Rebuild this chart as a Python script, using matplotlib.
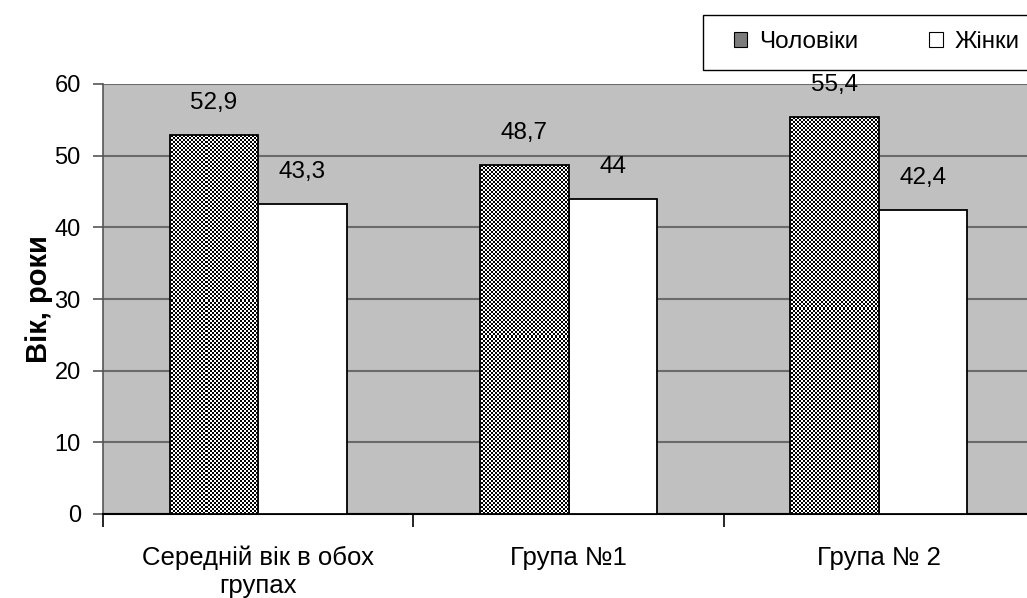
"""
Середній вік чоловіків і жінок у групах: стовпчикова діаграма.
"""

import numpy as np
import matplotlib.pyplot as plt
from matplotlib.patches import Patch, Rectangle

plt.rcParams['font.family'] = ['Liberation Sans', 'DejaVu Sans']

categories = ['Середній вік в обох\nгрупах', 'Група №1', 'Група № 2']
men = [52.9, 48.7, 55.4]
women = [43.3, 44.0, 42.4]
men_labels = ['52,9', '48,7', '55,4']
women_labels = ['43,3', '44', '42,4']
series_names = ['Чоловіки', 'Жінки']

W, H = 1027, 598
fig = plt.figure(figsize=(W / 100, H / 100), dpi=100)
# axes box in whole pixels so the checker image lands on the pixel grid
ax_l, ax_b, ax_w, ax_h = 103, 84, 931, 430
ax = fig.add_axes([ax_l / W, ax_b / H, ax_w / W, ax_h / H])
ax.set_facecolor('#c0c0c0')

x = np.arange(len(categories))
width = 0.285

bars_m = ax.bar(x - width / 2, men, width, facecolor='none',
                edgecolor='black', linewidth=1.3, zorder=4)
bars_w = ax.bar(x + width / 2, women, width, facecolor='white',
                edgecolor='black', linewidth=1.3, zorder=3)

# fine 2px checkerboard fill for the men's bars, clipped to each bar
yy, xx = np.mgrid[0:ax_h, 0:ax_w]
checker = ((xx // 2 + yy // 2) % 2).astype(float)
for b in bars_m:
    im = ax.imshow(checker, cmap='gray', vmin=0, vmax=1, interpolation='nearest',
                   extent=(0, 1, 0, 1), transform=ax.transAxes, zorder=3.5,
                   aspect='auto')
    im.set_clip_path(b)

ax.set_xlim(-0.5, 2.5)
ax.set_ylim(0, 60)

for bars, labels in [(bars_m, men_labels), (bars_w, women_labels)]:
    for b, lab in zip(bars, labels):
        ax.annotate(lab, (b.get_x() + b.get_width() / 2, b.get_height()),
                    xytext=(0, 23), textcoords='offset points',
                    ha='center', va='center', fontsize=17.5, zorder=5)

ax.yaxis.grid(True, color='#6a6a6a', linewidth=1.5, zorder=1)
ax.set_axisbelow(True)
ax.set_yticks(np.arange(0, 61, 10))
ax.tick_params(axis='y', labelsize=17, length=7, width=1.2, color='#555555', pad=9)

ax.set_xticks(x)
ax.set_xticklabels(categories, fontsize=18.5, linespacing=1.2)
ax.set_xticks([-0.5, 0.5, 1.5, 2.5], minor=True)
ax.tick_params(axis='x', which='major', length=0, pad=23)
ax.tick_params(axis='x', which='minor', length=9, width=1.2, color='black')

for side in ['top', 'right']:
    ax.spines[side].set_visible(False)
ax.spines['left'].set_color('#555555')
ax.spines['left'].set_linewidth(1.2)
ax.spines['bottom'].set_color('black')
ax.spines['bottom'].set_linewidth(1.5)

ax.set_ylabel('Вік, роки', fontsize=21, fontweight='bold', labelpad=1)

# legend frame runs off the right edge of the figure
fig.patches.append(Rectangle((703 / W, 1 - 70 / H), 400 / W, 55 / H,
                             transform=fig.transFigure, facecolor='white',
                             edgecolor='black', linewidth=1.0))
handles = [Patch(facecolor='#7c7c7c', edgecolor='black', linewidth=0.8),
           Patch(facecolor='white', edgecolor='black', linewidth=0.8)]
leg = fig.legend(handles, series_names, ncol=2, loc='center left',
                 bbox_to_anchor=(734 / W, 1 - 42 / H), fontsize=17.5,
                 frameon=False, handlelength=0.55, handleheight=0.55,
                 handletextpad=0.5, columnspacing=2.9,
                 borderpad=0, borderaxespad=0)

fig.savefig('out.png', dpi=100)
